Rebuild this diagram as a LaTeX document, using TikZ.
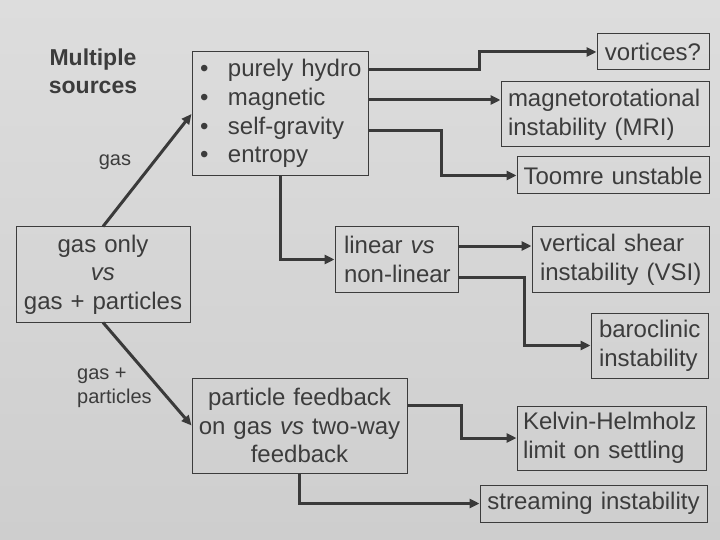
\documentclass[tikz,border=0pt]{standalone}
\usepackage{fontspec}
\setmainfont{Liberation Sans}
\usetikzlibrary{arrows.meta,calc}
\definecolor{bgtop}{RGB}{221,221,221}
\definecolor{bgbot}{RGB}{206,206,206}
\definecolor{ink}{RGB}{60,60,60}
\definecolor{wire}{RGB}{58,58,58}
\begin{document}
\begin{tikzpicture}[x=1pt,y=-1pt,
  box/.style={draw=ink, line width=1pt, inner ysep=0pt, inner xsep=0pt, text=ink, font=\fontsize{24}{28.6}\selectfont},
  cbox/.style={box, align=center},
  lbox/.style={box, align=left},
  conn/.style={draw=wire, line width=3pt, -{Triangle[length=10pt,width=9pt]}},
  lab/.style={text=ink, font=\fontsize{20}{24}\selectfont, inner sep=0pt},
  head/.style={text=ink, font=\fontsize{23}{28}\selectfont\bfseries, inner sep=0pt, align=center}
]
\useasboundingbox (0,0) rectangle (720,540);
\shade[top color=bgtop, bottom color=bgbot] (0,0) rectangle (720,540);

% left column
\node[head] (ms) at (93,71) {Multiple\\sources};
\node[lab] (lg) at (115,162) {gas};
\node[cbox, text width=174pt, minimum height=95pt] (gas) at (103,274.5) {gas only\\\textit{vs}\\gas + particles};
\node[lab, anchor=west, align=left] (lgp) at (77,388) {gas +\\particles};

% middle column
\node[lbox, text width=176pt, minimum height=124pt] (bul) at (280,114)
  {\begin{tabular}{@{\hspace{8pt}}l@{\hspace{19.6pt}}l@{}}
   \textbullet & purely hydro\\
   \textbullet & magnetic\\
   \textbullet & self-gravity\\
   \textbullet & entropy
   \end{tabular}};
\node[lbox, text width=123pt, minimum height=65pt] (lin) at (396.5,259.5)
  {\hspace*{9pt}linear \textit{vs}\\\hspace*{9pt}non-linear};
\node[cbox, text width=215pt, minimum height=95pt] (part) at (299.5,425.5)
  {particle feedback\\on gas \textit{vs} two-way\\feedback};

% right column
\node[cbox, text width=112pt, minimum height=36pt] (vort) at (653,52) {vortices?};
\node[lbox, text width=208pt, minimum height=65pt] (mri) at (605,114.5)
  {\hspace*{7pt}magnetorotational\\\hspace*{7pt}instability (MRI)};
\node[cbox, text width=192pt, minimum height=37pt] (toom) at (613,175.5) {Toomre unstable};
\node[lbox, text width=177pt, minimum height=65pt] (vsi) at (620.5,259.5)
  {\hspace*{8pt}vertical shear\\\hspace*{8pt}instability (VSI)};
\node[lbox, text width=117pt, minimum height=65pt] (baro) at (649.5,345.5)
  {\hspace*{8pt}baroclinic\\\hspace*{8pt}instability};
\node[lbox, text width=189pt, minimum height=64pt] (kel) at (611.5,438)
  {\hspace*{6pt}Kelvin-Helmholz\\\hspace*{6pt}limit on settling};
\node[cbox, text width=227pt, minimum height=37pt] (stream) at (593.5,503.5) {streaming instability};

% connectors
\draw[conn] (gas.north) -- (bul.west);
\draw[conn] (gas.south) -- (part.west);
\draw[conn] (bul.east |- 0,70) -- (479,70) |- (vort.west);
\draw[conn] (bul.east |- 0,100) -- (mri.west |- 0,100);
\draw[conn] (bul.east |- 0,131) -- (441,131) |- (toom.west);
\draw[conn] (bul.south) |- (lin.west);
\draw[conn] (lin.east |- 0,246) -- (vsi.west |- 0,246);
\draw[conn] (lin.east |- 0,277) -- (524,277) |- (baro.west);
\draw[conn] (part.east |- 0,405) -- (461,405) |- (kel.west);
\draw[conn] (part.south) |- (stream.west);
\end{tikzpicture}
\end{document}
